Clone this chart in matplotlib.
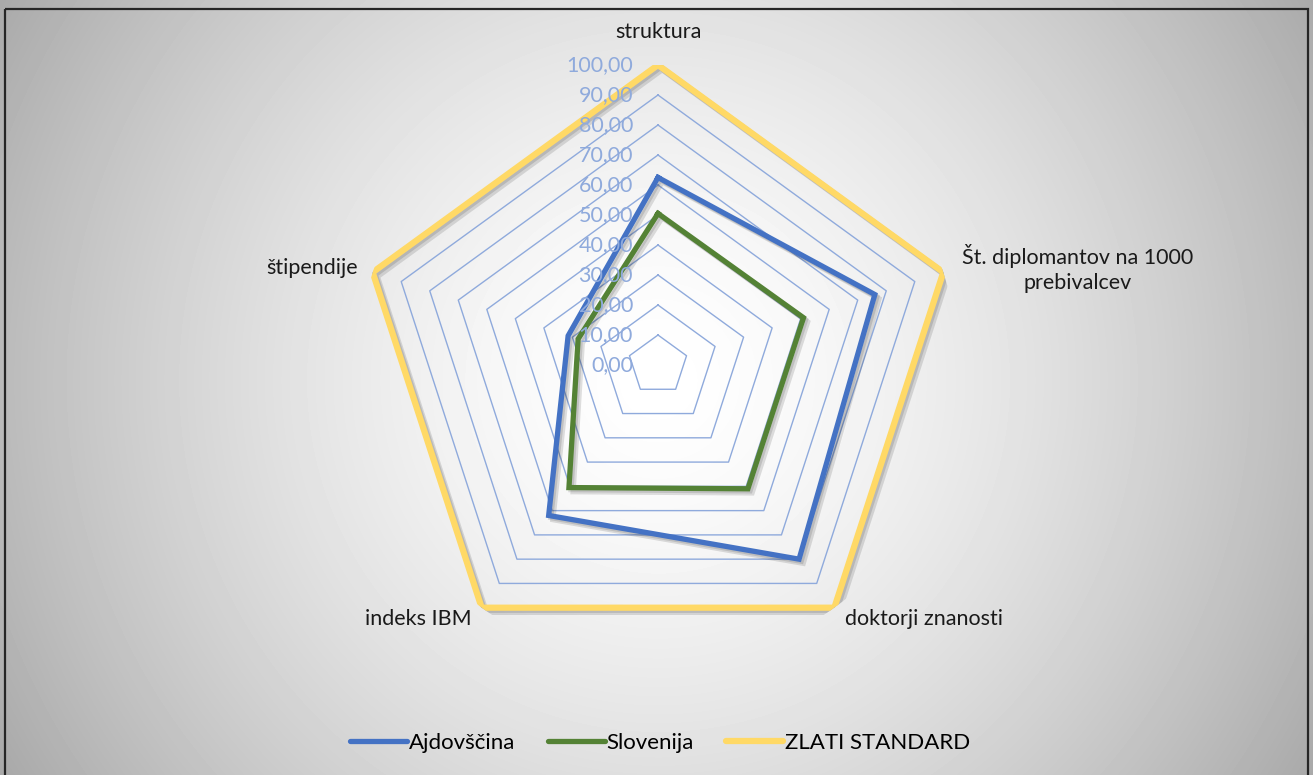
import matplotlib.pyplot as plt
import matplotlib.patheffects as pe
from matplotlib.patches import Rectangle
from matplotlib.lines import Line2D
import numpy as np

plt.rcParams['font.family'] = ['Lato', 'DejaVu Sans']

categories = ["struktura", "Št. diplomantov na 1000\nprebivalcev", "doktorji znanosti",
              "indeks IBM", "štipendije"]
ajdovscina = [62.5, 76.0, 80.0, 62.0, 31.5]
slovenija = [50.5, 51.0, 51.0, 50.5, 28.0]
zlati = [100, 100, 100, 100, 100]
rings = np.arange(0, 101, 10)
ring_labels = ["%d,00" % r for r in rings]

W, H = 1313, 775
fig = plt.figure(figsize=(W / 100, H / 100), dpi=100)

# radial grey gradient background
bg = fig.add_axes([0, 0, 1, 1])
yy, xx = np.mgrid[0:H, 0:W]
d = np.hypot(xx - 658, yy - 380)
d = d / d.max()
shade = 1 - 0.34 * d ** 1.5
bg.imshow(shade, cmap='gray', vmin=0, vmax=1, aspect='auto', extent=[0, W, H, 0])
bg.set_xlim(0, W)
bg.set_ylim(H, 0)
bg.axis('off')
bg.add_patch(Rectangle((5, 9), 1303, 775, fill=False, edgecolor='#262626', linewidth=1.6))

# radar axes: centre at (658, 365) px, radius 300 px
cx, cy, R = 658, 365, 300
ax = fig.add_axes([(cx - R) / W, (H - cy - R) / H, 2 * R / W, 2 * R / H], projection='polar')
ax.set_facecolor('none')
ax.set_theta_zero_location('N')
ax.set_theta_direction(-1)
ax.set_ylim(0, 100)
ax.grid(False)
ax.spines['polar'].set_visible(False)
ax.set_xticks([])
ax.set_yticks([])

theta = np.arange(len(categories)) * 2 * np.pi / len(categories)
theta_c = np.append(theta, theta[0])

for r in rings[1:]:
    ax.plot(theta_c, [r] * len(theta_c), color='#8FAADC', lw=1.0, zorder=1)

shadow = [pe.SimpleLineShadow(offset=(3, -3), shadow_color='k', alpha=0.12),
          pe.SimpleLineShadow(offset=(1.5, -1.5), shadow_color='k', alpha=0.12),
          pe.Normal()]
series = [("Ajdovščina", ajdovscina, '#4472C4', 3.8),
          ("Slovenija", slovenija, '#548235', 3.8),
          ("ZLATI STANDARD", zlati, '#FFD966', 4.5)]
for name, vals, col, lw in series:
    ax.plot(theta_c, vals + vals[:1], color=col, lw=lw, zorder=3,
            solid_joinstyle='miter', path_effects=shadow)

for r, lab in zip(rings, ring_labels):
    ax.annotate(lab, xy=(0, r), xytext=(-25, 0), textcoords='offset pixels',
                ha='right', va='center', fontsize=15.5, color='#8FAADC', zorder=4)

offsets = [((0, 33), 'center', 'center'),
           ((134, 4), 'center', 'center'),
           ((11, -11), 'left', 'center'),
           ((-10, -11), 'right', 'center'),
           ((-15, 4), 'right', 'center')]
for t, lab, (off, ha, va) in zip(theta, categories, offsets):
    ax.annotate(lab, xy=(t, 100), xytext=off, textcoords='offset pixels',
                ha=ha, va=va, multialignment='center', fontsize=15.5,
                color='#1a1a1a', linespacing=1.3, annotation_clip=False)

handles = [Line2D([], [], color=c, lw=lw, solid_capstyle='round') for _, _, c, lw in series]
fig.legend(handles, [s[0] for s in series], loc='center', bbox_to_anchor=(0.503, 0.041),
           ncol=3, frameon=False, fontsize=16, handlelength=2.55, handletextpad=0.1,
           columnspacing=1.45)

fig.savefig('out.png', dpi=100)
